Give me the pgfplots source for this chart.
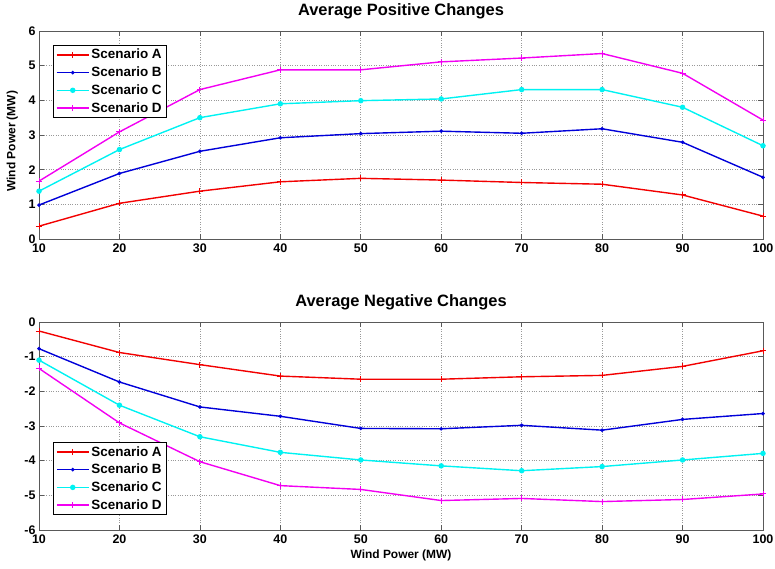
\documentclass[border=0pt]{standalone}
\usepackage{fontspec}
\setmainfont{Liberation Sans}
\usepackage{pgfplots}
\pgfplotsset{compat=1.18}
\definecolor{mred}{rgb}{0.95,0,0}
\definecolor{mblue}{rgb}{0,0,0.85}
\definecolor{mcyan}{rgb}{0,0.95,0.95}
\definecolor{mmag}{rgb}{0.95,0,0.95}
\pgfplotsset{
  myax/.style={
    scale only axis, width=724bp, height=208bp,
    xmin=10, xmax=100, xtick={10,20,...,100},
    grid=major, major grid style={dotted, gray!80, line width=0.6pt},
    axis line style={gray!70!black, line width=0.7pt},
    tick style={gray!70!black, line width=0.6pt}, tick align=inside, major tick length=5bp,
    /pgf/number format/assume math mode=true,
    tick label style={font=\fontsize{12.5}{14}\selectfont\bfseries},
    xticklabel style={yshift=-1bp},
    title style={font=\fontsize{16.5}{19}\selectfont\bfseries, at={(0.5,1)}, anchor=south, yshift=3bp},
    label style={font=\fontsize{12}{14}\selectfont\bfseries},
    legend style={font=\fontsize{13.5}{16}\selectfont\bfseries, draw=black, line width=0.6pt,
      inner xsep=3bp, inner ysep=2bp, row sep=2.5bp, cells={anchor=west},
      legend image code/.code={\draw[line width=1.4pt, mark repeat=2,mark phase=2] plot coordinates {(0bp,0bp) (16bp,0bp) (32bp,0bp)};}},
    legend cell align=left,
  },
  pa/.style={mred, line width=1.4pt, mark=+, mark size=3bp, mark options={line width=1pt}},
  pb/.style={mblue, line width=1.4pt, mark=*, mark size=1bp},
  pc/.style={mcyan, line width=1.4pt, mark=*, mark size=2bp},
  pd/.style={mmag, line width=1.4pt, mark=+, mark size=3bp, mark options={line width=1pt}},
}
\begin{document}
\begin{tikzpicture}
\begin{axis}[myax, at={(39bp,-31bp)}, anchor=north west,
  ymin=0, ymax=6, ytick={0,1,...,6},
  title={Average Positive Changes},
  ylabel={Wind Power (MW)},
  ylabel style={at={(axis description cs:-0.037,0.47)}, anchor=center},
  legend style={at={(0.019,0.933)}, anchor=north west}]
\addplot[pa] coordinates {(10,0.37) (20,1.03) (30,1.38) (40,1.65) (50,1.75) (60,1.70) (70,1.63) (80,1.58) (90,1.27) (100,0.66)};
\addplot[pb] coordinates {(10,0.98) (20,1.89) (30,2.53) (40,2.92) (50,3.04) (60,3.11) (70,3.05) (80,3.18) (90,2.79) (100,1.78)};
\addplot[pc] coordinates {(10,1.38) (20,2.58) (30,3.50) (40,3.90) (50,3.99) (60,4.04) (70,4.31) (80,4.31) (90,3.80) (100,2.69)};
\addplot[pd] coordinates {(10,1.67) (20,3.09) (30,4.31) (40,4.88) (50,4.88) (60,5.11) (70,5.22) (80,5.35) (90,4.78) (100,3.43)};
\legend{Scenario A, Scenario B, Scenario C, Scenario D}
\end{axis}
\begin{axis}[myax, at={(39bp,-322bp)}, anchor=north west,
  ymin=-6, ymax=0, ytick={-6,-5,...,0},
  title={Average Negative Changes},
  xlabel={Wind Power (MW)},
  legend style={at={(0.019,0.072)}, anchor=south west}]
\addplot[pa] coordinates {(10,-0.26) (20,-0.88) (30,-1.23) (40,-1.56) (50,-1.65) (60,-1.65) (70,-1.58) (80,-1.54) (90,-1.28) (100,-0.83)};
\addplot[pb] coordinates {(10,-0.77) (20,-1.73) (30,-2.45) (40,-2.72) (50,-3.07) (60,-3.08) (70,-2.98) (80,-3.12) (90,-2.81) (100,-2.64)};
\addplot[pc] coordinates {(10,-1.10) (20,-2.40) (30,-3.31) (40,-3.76) (50,-3.98) (60,-4.15) (70,-4.29) (80,-4.17) (90,-3.98) (100,-3.79)};
\addplot[pd] coordinates {(10,-1.34) (20,-2.91) (30,-4.03) (40,-4.72) (50,-4.83) (60,-5.15) (70,-5.09) (80,-5.18) (90,-5.12) (100,-4.96)};
\legend{Scenario A, Scenario B, Scenario C, Scenario D}
\end{axis}
\pgfresetboundingbox
\path (0,0) rectangle (775bp,-569bp);
\end{tikzpicture}
\end{document}
